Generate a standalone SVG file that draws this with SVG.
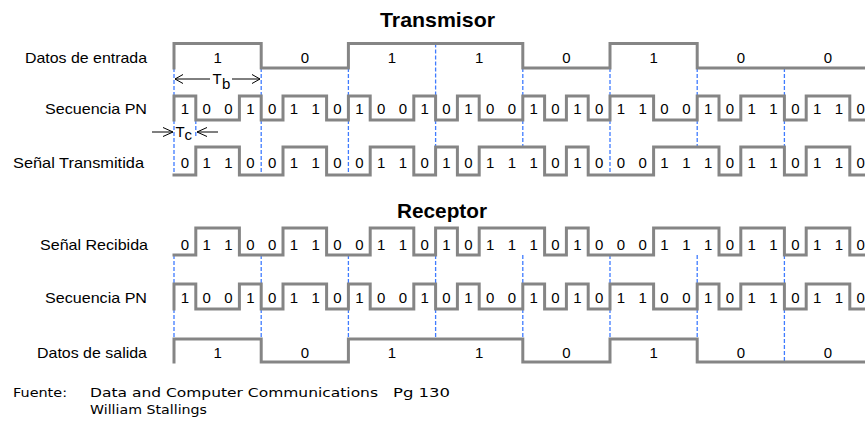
<svg xmlns="http://www.w3.org/2000/svg" width="865" height="425" viewBox="0 0 865 425">
<style>
.wave{fill:none;stroke:#858585;stroke-width:3;stroke-linejoin:miter;stroke-linecap:square}
.dash{fill:none;stroke:#3f7bff;stroke-width:1.3;stroke-dasharray:4 2}
.lbl{font-family:"Liberation Sans",Arial,sans-serif;font-size:15px;fill:#000}
.dig{font-family:"Liberation Sans",Arial,sans-serif;font-size:15px;fill:#000;text-anchor:middle}
.ttl{font-family:"Liberation Sans",Arial,sans-serif;font-size:21px;font-weight:bold;fill:#000}
.src{font-family:"DejaVu Sans",Verdana,sans-serif;font-size:12px;fill:#000}
.arr{fill:none;stroke:#000;stroke-width:1}
</style>
<rect width="865" height="425" fill="#fff"/>

<g id="titles">
<text class="ttl" x="380" y="27" textLength="115" lengthAdjust="spacingAndGlyphs">Transmisor</text>
<text class="ttl" x="397" y="218" textLength="90" lengthAdjust="spacingAndGlyphs">Receptor</text>
</g>

<g id="labels">
<text class="lbl" x="25" y="63" textLength="122" lengthAdjust="spacingAndGlyphs">Datos de entrada</text>
<text class="lbl" x="45" y="114" textLength="102" lengthAdjust="spacingAndGlyphs">Secuencia PN</text>
<text class="lbl" x="13" y="168" textLength="131" lengthAdjust="spacingAndGlyphs">Señal Transmitida</text>
<text class="lbl" x="40" y="250" textLength="108" lengthAdjust="spacingAndGlyphs">Señal Recibida</text>
<text class="lbl" x="45" y="303" textLength="102" lengthAdjust="spacingAndGlyphs">Secuencia PN</text>
<text class="lbl" x="37" y="358" textLength="110" lengthAdjust="spacingAndGlyphs">Datos de salida</text>
</g>

<g id="connectors">
<path class="dash" d="M174,68V96M261.2,68V96M348.4,68V96M435.6,43.5V96M522.8,68V96M610,68V96M697.2,68V96M784.4,68V96"/>
<path class="dash" d="M174,120V175M261.2,120V175M348.4,120V175M435.6,120V147M522.8,120V147M610,120V175M697.2,120V147M784.4,120V147M195.8,120V137"/>
<path class="dash" d="M174,255V284M261.2,255V284M348.4,255V284M435.6,255V284M522.8,255V284M610,255V284M697.2,255V284M784.4,255V284"/>
<path class="dash" d="M174,309V339M261.2,309V339M348.4,309V339M435.6,309V339M522.8,309V339M610,309V339M697.2,309V339M784.4,309V362"/>
</g>

<g id="datos-entrada">
<path class="wave" d="M174,68V43.5H261.2V68H348.4V43.5H522.8V68H610V43.5H697.2V68H868"/>
<text class="dig" x="217.6 304.8 392 479.2 566.4 653.6 740.8 828" y="63">10110100</text>
</g>

<g id="pn-tx">
<path class="wave" d="M174,120V96H195.8V120H239.4V96H261.2V120H283V96H326.6V120H348.4V96H370.2V120H413.8V96H435.6V120H457.4V96H479.2V120H522.8V96H544.6V120H566.4V96H588.2V120H610V96H653.6V120H697.2V96H719V120H740.8V96H784.4V120H806.2V96H849.8V120H868"/>
<text class="dig" x="184.9 206.7 228.5 250.3 272.1 293.9 315.7 337.5 359.3 381.1 402.9 424.7 446.5 468.3 490.1 511.9 533.7 555.5 577.3 599.1 620.9 642.7 664.5 686.3 708.1 729.9 751.7 773.5 795.3 817.1 838.9 860.7" y="114">10010110100101001010110010110110</text>
</g>

<g id="senal-tx">
<path class="wave" d="M174,175H195.8V147H239.4V175H283V147H326.6V175H370.2V147H413.8V175H435.6V147H457.4V175H479.2V147H544.6V175H566.4V147H588.2V175H653.6V147H719V175H740.8V147H784.4V175H806.2V147H849.8V175H868"/>
<text class="dig" x="184.9 206.7 228.5 250.3 272.1 293.9 315.7 337.5 359.3 381.1 402.9 424.7 446.5 468.3 490.1 511.9 533.7 555.5 577.3 599.1 620.9 642.7 664.5 686.3 708.1 729.9 751.7 773.5 795.3 817.1 838.9 860.7" y="168">01100110011010111010001110110110</text>
</g>

<g id="senal-rx">
<path class="wave" d="M174,255H195.8V228H239.4V255H283V228H326.6V255H370.2V228H413.8V255H435.6V228H457.4V255H479.2V228H544.6V255H566.4V228H588.2V255H653.6V228H719V255H740.8V228H784.4V255H806.2V228H849.8V255H868"/>
<text class="dig" x="184.9 206.7 228.5 250.3 272.1 293.9 315.7 337.5 359.3 381.1 402.9 424.7 446.5 468.3 490.1 511.9 533.7 555.5 577.3 599.1 620.9 642.7 664.5 686.3 708.1 729.9 751.7 773.5 795.3 817.1 838.9 860.7" y="250">01100110011010111010001110110110</text>
</g>

<g id="pn-rx">
<path class="wave" d="M174,309V284H195.8V309H239.4V284H261.2V309H283V284H326.6V309H348.4V284H370.2V309H413.8V284H435.6V309H457.4V284H479.2V309H522.8V284H544.6V309H566.4V284H588.2V309H610V284H653.6V309H697.2V284H719V309H740.8V284H784.4V309H806.2V284H849.8V309H868"/>
<text class="dig" x="184.9 206.7 228.5 250.3 272.1 293.9 315.7 337.5 359.3 381.1 402.9 424.7 446.5 468.3 490.1 511.9 533.7 555.5 577.3 599.1 620.9 642.7 664.5 686.3 708.1 729.9 751.7 773.5 795.3 817.1 838.9 860.7" y="303">10010110100101001010110010110110</text>
</g>

<g id="datos-salida">
<path class="wave" d="M174,362V339H261.2V362H348.4V339H522.8V362H610V339H697.2V362H868"/>
<text class="dig" x="217.6 304.8 392 479.2 566.4 653.6 740.8 828" y="358">10110100</text>
</g>

<g id="tb">
<path class="arr" d="M175,79H210M232,79H260M183,74.5L175,79L183,83.5M252,74.5L260,79L252,83.5"/>
<text class="lbl" x="212.5" y="84" font-size="15">T</text>
<text class="lbl" x="222" y="89" font-size="13">b</text>
</g>

<g id="tc">
<path class="arr" d="M152,132H173M163,127.5L173,132L163,136.5M197,132H218M207,127.5L197,132L207,136.5"/>
<text class="lbl" x="175.5" y="137" font-size="13">T</text>
<text class="lbl" x="184.5" y="140" font-size="11">c</text>
</g>

<g id="fuente">
<text class="src" x="13" y="397" textLength="54" lengthAdjust="spacingAndGlyphs">Fuente:</text>
<text class="src" x="90" y="397" textLength="288" lengthAdjust="spacingAndGlyphs">Data and Computer Communications</text>
<text class="src" x="393" y="397" textLength="57" lengthAdjust="spacingAndGlyphs">Pg 130</text>
<text class="src" x="90" y="414" textLength="117" lengthAdjust="spacingAndGlyphs">William Stallings</text>
</g>
</svg>
